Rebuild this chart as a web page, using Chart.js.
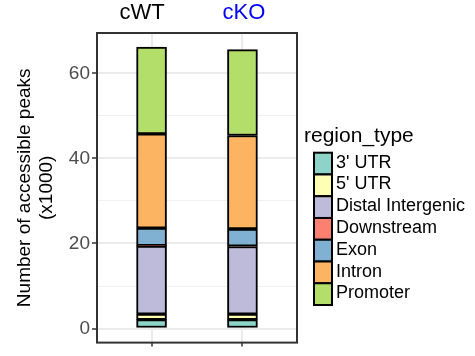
<!DOCTYPE html>
<html>
<head>
<meta charset="utf-8">
<script src="https://cdn.jsdelivr.net/npm/chart.js@4.4.1/dist/chart.umd.min.js"></script>
<style>
  html, body { margin: 0; padding: 0; background: #fff; }
</style>
</head>
<body>
<canvas id="chart" width="475" height="356"></canvas>
<script>
// samples and region types
const samples = ['cWT', 'cKO'];
const sampleColors = ['#000000', '#0000FF'];
const regionTypes = ["3' UTR", "5' UTR", 'Distal Intergenic', 'Downstream', 'Exon', 'Intron', 'Promoter'];
const regionColors = ['#8DD3C7', '#FFFFB3', '#BEBADA', '#FB8072', '#80B1D3', '#FDB462', '#B3DE69'];

// accessible peaks (x1000) per region, [cWT, cKO]
const utr3 = [2.1, 2.1];
const utr5 = [1.3, 1.3];
const distalIntergenic = [16.0, 15.9];
const downstream = [0.1, 0.1];
const exon = [4.1, 4.0];
const intron = [22.2, 22.0];
const promoter = [20.4, 20.2];

const yLabelTicks = [0, 20, 40, 60];
const yGridTicks = [0, 10, 20, 30, 40, 50, 60];

const FONT = '"Liberation Sans", Arial, sans-serif';
Chart.defaults.font.family = FONT;

const regionValues = [utr3, utr5, distalIntergenic, downstream, exon, intron, promoter];

const datasets = regionTypes.map((name, i) => ({
    label: name,
    data: regionValues[i].map((v, j) => ({ x: j + 1, y: v })),
    backgroundColor: regionColors[i],
    borderColor: '#000000',
    borderWidth: 2,
    borderSkipped: false,
    barThickness: 30
}));

// panel frame drawn over the chart area
const panelBorder = {
    id: 'panelBorder',
    afterDraw(chart) {
        const { ctx, chartArea: a } = chart;
        ctx.save();
        ctx.strokeStyle = '#333333';
        ctx.lineWidth = 2;
        ctx.strokeRect(a.left, a.top, a.right - a.left, a.bottom - a.top);
        ctx.restore();
    }
};

// ggplot style legend on the right
const regionLegend = {
    id: 'regionLegend',
    afterDraw(chart) {
        const ctx = chart.ctx;
        ctx.save();
        ctx.fillStyle = '#000';
        ctx.textBaseline = 'alphabetic';
        ctx.font = '21px ' + FONT;
        ctx.fillText('region_type', 304, 141.5);
        ctx.font = '18px ' + FONT;
        const keyH = 21.76;
        chart.data.datasets.forEach((ds, i) => {
            const top = 152.7 + i * keyH;
            ctx.fillStyle = ds.backgroundColor;
            ctx.fillRect(314, top, 18, keyH);
            ctx.strokeStyle = '#000';
            ctx.lineWidth = 2;
            ctx.strokeRect(314, top, 18, keyH);
            ctx.fillStyle = '#000';
            ctx.fillText(ds.label, 336, top + 15);
        });
        ctx.restore();
    }
};

new Chart(document.getElementById('chart'), {
    type: 'bar',
    data: { datasets },
    options: {
        responsive: false,
        animation: false,
        devicePixelRatio: 1,
        layout: { padding: { left: 0, right: 178, top: 0, bottom: 0 } },
        plugins: { legend: { display: false }, tooltip: { enabled: false } },
        scales: {
            x: {
                type: 'linear',
                stacked: true,
                offset: false,
                min: 0.4,
                max: 2.6,
                afterBuildTicks: s => { s.ticks = samples.map((_, i) => ({ value: i + 1 })); },
                afterFit: s => { s.height = 4; },
                ticks: { callback: () => '', padding: 0 },
                grid: { offset: false, color: '#EBEBEB', lineWidth: 2, tickLength: 4, tickColor: '#333333', tickWidth: 1.5 },
                border: { display: false }
            },
            xTop: {
                type: 'linear',
                position: 'top',
                offset: false,
                min: 0.559,
                max: 2.52,
                afterBuildTicks: s => { s.ticks = samples.map((_, i) => ({ value: i + 1 })); },
                afterFit: s => { s.height = 33; },
                ticks: {
                    callback: v => samples[v - 1],
                    color: ctx => sampleColors[ctx.index],
                    font: { size: 22 },
                    padding: 7,
                    maxRotation: 0,
                    autoSkip: false
                },
                grid: { offset: false, display: false, drawTicks: false },
                border: { display: false }
            },
            y: {
                stacked: true,
                min: -3.31,
                max: 69.51,
                afterBuildTicks: s => { s.ticks = yGridTicks.map(v => ({ value: v })); },
                afterFit: s => { s.width = 97; },
                ticks: {
                    callback: v => yLabelTicks.includes(v) ? String(v) : '',
                    color: '#4D4D4D',
                    font: { size: 19 },
                    padding: 2
                },
                grid: {
                    color: ctx => yLabelTicks.includes(ctx.tick.value) ? '#EBEBEB' : '#F1F1F1',
                    lineWidth: ctx => yLabelTicks.includes(ctx.tick.value) ? 2 : 1,
                    tickLength: 5,
                    tickColor: ctx => yLabelTicks.includes(ctx.tick.value) ? '#333333' : 'rgba(0,0,0,0)',
                    tickWidth: 1.5
                },
                border: { display: false },
                title: {
                    display: true,
                    text: ['Number of accessible peaks', '(x1000)'],
                    color: '#000',
                    font: { size: 19, lineHeight: 1.16 },
                    padding: { top: 14, bottom: 0 }
                }
            }
        }
    },
    plugins: [panelBorder, regionLegend]
});
</script>
</body>
</html>
